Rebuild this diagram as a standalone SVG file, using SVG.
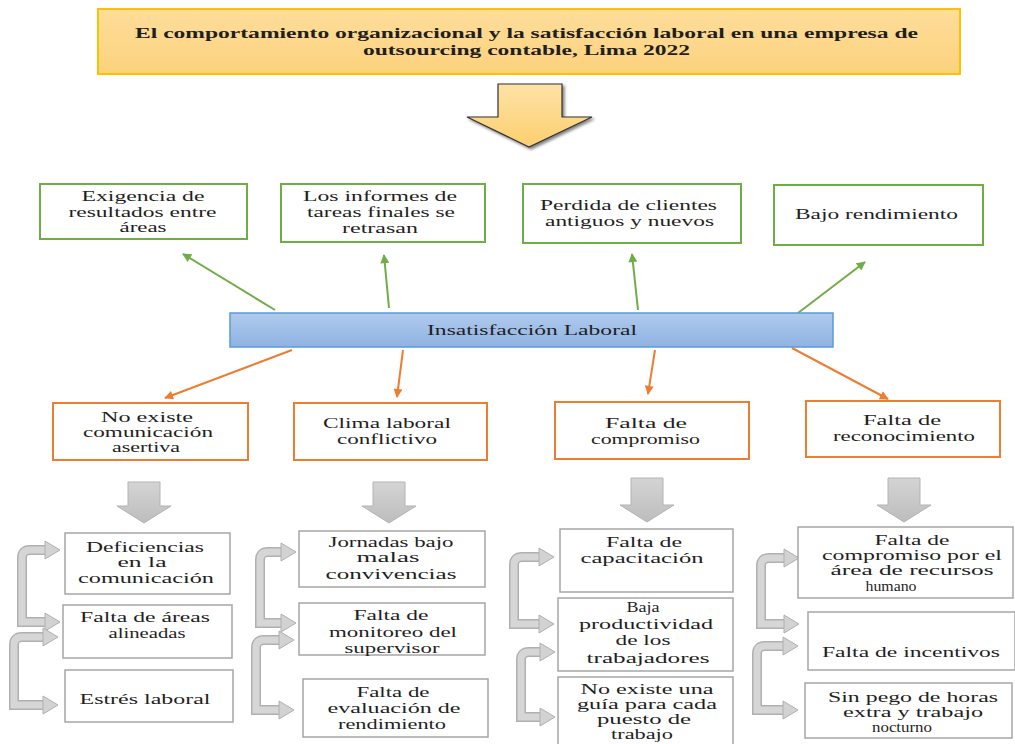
<svg xmlns="http://www.w3.org/2000/svg" width="1015" height="744" viewBox="0 0 1015 744">
<style>
.txt text{fill:#1f1f1f;text-anchor:middle}
.t{font-size:15px;font-weight:bold}
.g{font-size:15px}
.o{font-size:14px}
.green{fill:#fff;stroke:#70ad47;stroke-width:2}
.orange{fill:#fff;stroke:#ed7d31;stroke-width:2}
.gray{fill:#fff;stroke:#a6a6a6;stroke-width:1.5}
.ga{stroke:#70ad47;stroke-width:2;fill:none;marker-end:url(#mg)}
.oa{stroke:#ed7d31;stroke-width:2;fill:none;marker-end:url(#mo)}
.down{fill:url(#grayGrad);stroke:#b3b3b3;stroke-width:1}
.bo{fill:none;stroke:#b0b0b0;stroke-width:10}
.bi{fill:none;stroke:#d6d6d6;stroke-width:7}
.bh{fill:#d2d2d2;stroke:#b0b0b0;stroke-width:1}
</style>
<defs>
<linearGradient id="titleGrad" x1="0" y1="0" x2="0" y2="1"><stop offset="0" stop-color="#fedd9b"/><stop offset="1" stop-color="#fcd27c"/></linearGradient>
<linearGradient id="arrowGrad" x1="0" y1="0" x2="0" y2="1"><stop offset="0" stop-color="#fee2a6"/><stop offset="1" stop-color="#fbcf6e"/></linearGradient>
<linearGradient id="blueGrad" x1="0" y1="0" x2="0" y2="1"><stop offset="0" stop-color="#b0caec"/><stop offset="1" stop-color="#8fb3e3"/></linearGradient>
<linearGradient id="grayGrad" x1="0" y1="0" x2="0" y2="1"><stop offset="0" stop-color="#d4d4d4"/><stop offset="1" stop-color="#bdbdbd"/></linearGradient>
<filter id="sh" x="-20%" y="-20%" width="150%" height="150%"><feGaussianBlur in="SourceAlpha" stdDeviation="1.5"/><feOffset dx="2" dy="2"/><feComponentTransfer><feFuncA type="linear" slope="0.5"/></feComponentTransfer><feMerge><feMergeNode/><feMergeNode in="SourceGraphic"/></feMerge></filter>
<marker id="mg" viewBox="0 0 10 10" refX="9" refY="5" markerWidth="10" markerHeight="9" markerUnits="userSpaceOnUse" orient="auto"><path d="M0,0 L10,5 L0,10 z" fill="#70ad47"/></marker>
<marker id="mo" viewBox="0 0 10 10" refX="9" refY="5" markerWidth="10" markerHeight="9" markerUnits="userSpaceOnUse" orient="auto"><path d="M0,0 L10,5 L0,10 z" fill="#ed7d31"/></marker>
</defs>
<rect width="1015" height="744" fill="#fff"/>

<g id="connectors">
<polygon points="498,84 562,84 562,117 592,117 529,147 467,117 498,117" fill="url(#arrowGrad)" stroke="#333" stroke-width="1.2" filter="url(#sh)"/>
<line class="ga" x1="275" y1="310" x2="183" y2="254"/>
<line class="ga" x1="389" y1="308" x2="384" y2="255"/>
<line class="ga" x1="638" y1="310" x2="632" y2="254"/>
<line class="ga" x1="798" y1="313" x2="865" y2="262"/>
<line class="oa" x1="292" y1="350" x2="165" y2="398"/>
<line class="oa" x1="403" y1="350" x2="397" y2="397"/>
<line class="oa" x1="655" y1="350" x2="648" y2="394"/>
<line class="oa" x1="792" y1="348" x2="888" y2="399"/>
<polygon class="down" points="128,482 160,482 160,506 171,506 144,523 117,506 128,506"/>
<polygon class="down" points="373,482 405,482 405,506 416,506 389,523 362,506 373,506"/>
<polygon class="down" points="631,478 663,478 663,505 674,505 647,522 620,505 631,505"/>
<polygon class="down" points="888,478 920,478 920,505 931,505 904,522 877,505 888,505"/>
<path class="bo" d="M46,550 L30,550 Q22,550 22,558 L22,622 L46,622"/>
<path class="bi" d="M46,550 L30,550 Q22,550 22,558 L22,622 L46,622"/>
<path class="bo" d="M44,637 L22,637 Q14,637 14,645 L14,705 L44,705"/>
<path class="bi" d="M44,637 L22,637 Q14,637 14,645 L14,705 L44,705"/>
<path class="bo" d="M282,552 L268,552 Q260,552 260,560 L260,623 L282,623"/>
<path class="bi" d="M282,552 L268,552 Q260,552 260,560 L260,623 L282,623"/>
<path class="bo" d="M280,640 L264,640 Q256,640 256,648 L256,710 L280,710"/>
<path class="bi" d="M280,640 L264,640 Q256,640 256,648 L256,710 L280,710"/>
<path class="bo" d="M540,557 L522,557 Q514,557 514,565 L514,624 L540,624"/>
<path class="bi" d="M540,557 L522,557 Q514,557 514,565 L514,624 L540,624"/>
<path class="bo" d="M541,652 L529,652 Q521,652 521,660 L521,717 L541,717"/>
<path class="bi" d="M541,652 L529,652 Q521,652 521,660 L521,717 L541,717"/>
<path class="bo" d="M785,558 L769,558 Q761,558 761,566 L761,624 L785,624"/>
<path class="bi" d="M785,558 L769,558 Q761,558 761,566 L761,624 L785,624"/>
<path class="bo" d="M784,646 L765,646 Q757,646 757,654 L757,710 L784,710"/>
<path class="bi" d="M784,646 L765,646 Q757,646 757,654 L757,710 L784,710"/>
<polygon class="bh" points="45,541 60,550 45,559"/>
<polygon class="bh" points="45,613 60,622 45,631"/>
<polygon class="bh" points="43,628 58,637 43,646"/>
<polygon class="bh" points="43,696 58,705 43,714"/>
<polygon class="bh" points="281,543 296,552 281,561"/>
<polygon class="bh" points="281,614 296,623 281,632"/>
<polygon class="bh" points="279,631 294,640 279,649"/>
<polygon class="bh" points="279,701 294,710 279,719"/>
<polygon class="bh" points="539,548 554,557 539,566"/>
<polygon class="bh" points="539,615 554,624 539,633"/>
<polygon class="bh" points="540,643 555,652 540,661"/>
<polygon class="bh" points="540,708 555,717 540,726"/>
<polygon class="bh" points="784,549 799,558 784,567"/>
<polygon class="bh" points="784,615 799,624 784,633"/>
<polygon class="bh" points="783,637 798,646 783,655"/>
<polygon class="bh" points="783,701 798,710 783,719"/>
</g>

<g class="txt" font-family="Liberation Serif, Times New Roman, serif">
<g id="title">
<rect x="98" y="9" width="862" height="65" fill="url(#titleGrad)" stroke="#ffc000" stroke-width="2"/>
<text class="t" x="526.5" y="38" textLength="783" lengthAdjust="spacingAndGlyphs">El comportamiento organizacional y la satisfacción laboral en una empresa de</text>
<text class="t" x="526.5" y="55" textLength="327" lengthAdjust="spacingAndGlyphs">outsourcing contable, Lima 2022</text>
</g>

<g id="effect1">
<rect class="green" x="40" y="184" width="207" height="55"/>
<text class="g" x="143" y="201" textLength="123" lengthAdjust="spacingAndGlyphs">Exigencia de</text>
<text class="g" x="142.5" y="217" textLength="148" lengthAdjust="spacingAndGlyphs">resultados entre</text>
<text class="g" x="143" y="232" textLength="47" lengthAdjust="spacingAndGlyphs">áreas</text>
</g>
<g id="effect2">
<rect class="green" x="281" y="184" width="204" height="58"/>
<text class="g" x="380" y="201" textLength="154" lengthAdjust="spacingAndGlyphs">Los informes de</text>
<text class="g" x="381" y="217" textLength="148" lengthAdjust="spacingAndGlyphs">tareas finales se</text>
<text class="g" x="380" y="233" textLength="76" lengthAdjust="spacingAndGlyphs">retrasan</text>
</g>
<g id="effect3">
<rect class="green" x="523" y="184" width="218" height="59"/>
<text class="g" x="628.5" y="210" textLength="177" lengthAdjust="spacingAndGlyphs">Perdida de clientes</text>
<text class="g" x="629.5" y="226" textLength="169" lengthAdjust="spacingAndGlyphs">antiguos y nuevos</text>
</g>
<g id="effect4">
<rect class="green" x="774" y="185" width="209" height="60"/>
<text class="g" x="876.5" y="219" textLength="163" lengthAdjust="spacingAndGlyphs">Bajo rendimiento</text>
</g>

<g id="problem">
<rect x="230" y="313" width="603" height="34" fill="url(#blueGrad)" stroke="#5b9bd5" stroke-width="1.5"/>
<text class="g" x="532" y="335" textLength="210" lengthAdjust="spacingAndGlyphs">Insatisfacción Laboral</text>
</g>

<g id="cause1">
<rect class="orange" x="53" y="403" width="195" height="57"/>
<text class="o" x="147" y="422" textLength="92" lengthAdjust="spacingAndGlyphs">No existe</text>
<text class="o" x="148" y="437" textLength="130" lengthAdjust="spacingAndGlyphs">comunicación</text>
<text class="o" x="146" y="452" textLength="68" lengthAdjust="spacingAndGlyphs">asertiva</text>
</g>
<g id="cause2">
<rect class="orange" x="294" y="403" width="193" height="57"/>
<text class="o" x="387" y="428" textLength="128" lengthAdjust="spacingAndGlyphs">Clima laboral</text>
<text class="o" x="387" y="444" textLength="100" lengthAdjust="spacingAndGlyphs">conflictivo</text>
</g>
<g id="cause3">
<rect class="orange" x="555" y="402" width="194" height="57"/>
<text class="o" x="646" y="428" textLength="82" lengthAdjust="spacingAndGlyphs">Falta de</text>
<text class="o" x="645.5" y="444" textLength="109" lengthAdjust="spacingAndGlyphs">compromiso</text>
</g>
<g id="cause4">
<rect class="orange" x="806" y="401" width="194" height="56"/>
<text class="o" x="902" y="425" textLength="78" lengthAdjust="spacingAndGlyphs">Falta de</text>
<text class="o" x="904" y="441" textLength="142" lengthAdjust="spacingAndGlyphs">reconocimiento</text>
</g>

<g id="sub1a">
<rect class="gray" x="65" y="533" width="165" height="61"/>
<text class="g" x="145" y="552" textLength="118" lengthAdjust="spacingAndGlyphs">Deficiencias</text>
<text class="g" x="142" y="567" textLength="49" lengthAdjust="spacingAndGlyphs">en la</text>
<text class="g" x="146" y="583" textLength="136" lengthAdjust="spacingAndGlyphs">comunicación</text>
</g>
<g id="sub1b">
<rect class="gray" x="63" y="605" width="169" height="53"/>
<text class="g" x="145" y="622" textLength="130" lengthAdjust="spacingAndGlyphs">Falta de áreas</text>
<text class="g" x="147" y="638" textLength="77" lengthAdjust="spacingAndGlyphs">alineadas</text>
</g>
<g id="sub1c">
<rect class="gray" x="65" y="670" width="168" height="52"/>
<text class="g" x="145" y="704" textLength="131" lengthAdjust="spacingAndGlyphs">Estrés laboral</text>
</g>

<g id="sub2a">
<rect class="gray" x="299" y="531" width="186" height="56"/>
<text class="g" x="391" y="547" textLength="125" lengthAdjust="spacingAndGlyphs">Jornadas bajo</text>
<text class="g" x="388" y="562" textLength="63" lengthAdjust="spacingAndGlyphs">malas</text>
<text class="g" x="391" y="579" textLength="131" lengthAdjust="spacingAndGlyphs">convivencias</text>
</g>
<g id="sub2b">
<rect class="gray" x="299" y="603" width="186" height="52"/>
<text class="g" x="391" y="620" textLength="75" lengthAdjust="spacingAndGlyphs">Falta de</text>
<text class="g" x="393" y="637" textLength="128" lengthAdjust="spacingAndGlyphs">monitoreo del</text>
<text class="g" x="392" y="653" textLength="95" lengthAdjust="spacingAndGlyphs">supervisor</text>
</g>
<g id="sub2c">
<rect class="gray" x="303" y="679" width="185" height="58"/>
<text class="g" x="393" y="697" textLength="73" lengthAdjust="spacingAndGlyphs">Falta de</text>
<text class="g" x="394" y="713" textLength="133" lengthAdjust="spacingAndGlyphs">evaluación de</text>
<text class="g" x="392" y="729" textLength="108" lengthAdjust="spacingAndGlyphs">rendimiento</text>
</g>

<g id="sub3a">
<rect class="gray" x="560" y="529" width="173" height="63"/>
<text class="g" x="644" y="547" textLength="76" lengthAdjust="spacingAndGlyphs">Falta de</text>
<text class="g" x="642" y="563" textLength="123" lengthAdjust="spacingAndGlyphs">capacitación</text>
</g>
<g id="sub3b">
<rect class="gray" x="558" y="598" width="175" height="73"/>
<text class="g" x="643" y="612" textLength="33" lengthAdjust="spacingAndGlyphs">Baja</text>
<text class="g" x="646" y="629" textLength="134" lengthAdjust="spacingAndGlyphs">productividad</text>
<text class="g" x="643" y="645" textLength="55" lengthAdjust="spacingAndGlyphs">de los</text>
<text class="g" x="648" y="663" textLength="123" lengthAdjust="spacingAndGlyphs">trabajadores</text>
</g>
<g id="sub3c">
<rect class="gray" x="558" y="677" width="175" height="80"/>
<text class="g" x="647" y="694" textLength="133" lengthAdjust="spacingAndGlyphs">No existe una</text>
<text class="g" x="647" y="709" textLength="140" lengthAdjust="spacingAndGlyphs">guía para cada</text>
<text class="g" x="644" y="724" textLength="94" lengthAdjust="spacingAndGlyphs">puesto de</text>
<text class="g" x="642" y="739" textLength="62" lengthAdjust="spacingAndGlyphs">trabajo</text>
</g>

<g id="sub4a">
<rect class="gray" x="798" y="527" width="215" height="71"/>
<text class="g" x="912" y="545" textLength="75" lengthAdjust="spacingAndGlyphs">Falta de</text>
<text class="g" x="912" y="560" textLength="180" lengthAdjust="spacingAndGlyphs">compromiso por el</text>
<text class="g" x="912" y="575" textLength="163" lengthAdjust="spacingAndGlyphs">área de recursos</text>
<text class="g" x="891" y="591" textLength="51" lengthAdjust="spacingAndGlyphs">humano</text>
</g>
<g id="sub4b">
<rect class="gray" x="808" y="612" width="207" height="58"/>
<text class="g" x="911" y="657" textLength="178" lengthAdjust="spacingAndGlyphs">Falta de incentivos</text>
</g>
<g id="sub4c">
<rect class="gray" x="805" y="683" width="207" height="55"/>
<text class="g" x="913" y="702" textLength="170" lengthAdjust="spacingAndGlyphs">Sin pego de horas</text>
<text class="g" x="913" y="717" textLength="140" lengthAdjust="spacingAndGlyphs">extra y trabajo</text>
<text class="g" x="902" y="732" textLength="60" lengthAdjust="spacingAndGlyphs">nocturno</text>
</g>
</g>
</svg>
